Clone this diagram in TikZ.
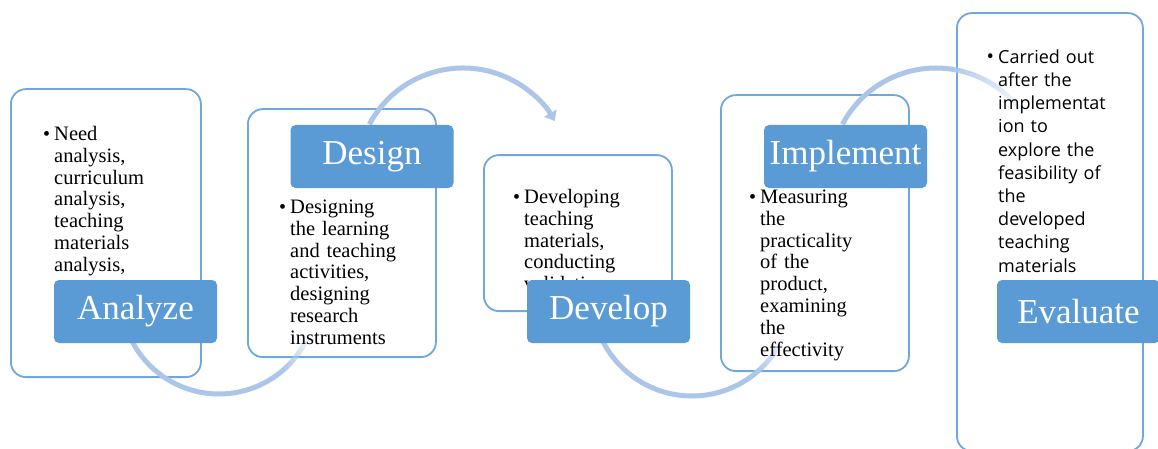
\documentclass[tikz,border=0pt]{standalone}
\usepackage{fontspec}
\setmainfont{Liberation Serif}
\newfontfamily\evalfont{Open Sans}
\usetikzlibrary{arrows.meta}
\definecolor{labelblue}{RGB}{91,155,213}
\definecolor{boxline}{RGB}{112,167,222}
\definecolor{arcblue}{RGB}{172,198,233}
% strut fixing the height of the first line of each bullet text
\newcommand\lnstrut{\rule{0pt}{16pt}}
\newcommand\bulletmark{\llap{{\fontsize{20}{20}\selectfont\textbullet}\hspace{4pt}}}

\begin{document}
\begin{tikzpicture}[x=1pt,y=1pt,
  textbox/.style={draw=boxline, line width=1.8pt, fill=white, rounded corners=15pt,
                  inner sep=0pt, anchor=south west},
  stagelabel/.style={fill=labelblue, rounded corners=5pt, inner sep=0pt, text=white,
                     minimum width=163pt, minimum height=63pt,
                     font=\fontsize{35}{38}\selectfont},
  bodytext/.style={anchor=north west, inner sep=0pt, align=left, text width=#1,
                   font=\fontsize{20.5}{21.9}\selectfont},
  evaltext/.style={anchor=north west, inner sep=0pt, align=left, text width=#1,
                   font=\evalfont\fontsize{18}{23.2}\selectfont},
  flowarc/.style={draw=arcblue, line width=5pt, line cap=butt},
]
\useasboundingbox (0,0) rectangle (1158,448);
\fill[white] (0,0) rectangle (1158,448);

% text panels
\node[textbox, minimum width=190pt, minimum height=288pt] (box1) at (10,70) {};
\node[textbox, minimum width=188pt, minimum height=248pt] (box2) at (247,90) {};
\node[textbox, minimum width=188pt, minimum height=156pt] (box3) at (483,136) {};
\node[textbox, minimum width=188pt, minimum height=276pt] (box4) at (720,76) {};
\node[textbox, minimum width=186pt, minimum height=438pt] (box5) at (956,-4) {};

% arc centres
\coordinate (c1) at (219,152);
\coordinate (c2) at (463,274);
\coordinate (c3) at (692,152);
\coordinate (c4) at (936,274);

% lower arcs: Analyze -> Design, Develop -> Implement
\draw[flowarc] ([shift={(200:98)}]c1) arc[start angle=200, end angle=310, radius=98];
\foreach \k in {0,...,9} {
  \pgfmathsetmacro\pa{310+\k*2.5}
  \pgfmathsetmacro\pc{1-\k*0.095}
  \draw[flowarc, draw opacity=\pc] ([shift={(\pa:98)}]c1) arc[start angle=\pa, end angle=\pa+2.5, radius=98];
}
\draw[flowarc] ([shift={(200:100)}]c3) arc[start angle=200, end angle=310, radius=100];
\foreach \k in {0,...,9} {
  \pgfmathsetmacro\pa{310+\k*2.5}
  \pgfmathsetmacro\pc{1-\k*0.095}
  \draw[flowarc, draw opacity=\pc] ([shift={(\pa:100)}]c3) arc[start angle=\pa, end angle=\pa+2.5, radius=100];
}

% upper arcs: Design -> Develop (with tip), Implement -> Evaluate
\draw[flowarc, -{Triangle[width=14pt,length=9pt]}] ([shift={(152:106)}]c2)
  arc[start angle=152, end angle=30, radius=106];
\draw[flowarc] ([shift={(152:106)}]c4) arc[start angle=152, end angle=80, radius=106];
\foreach \k in {0,...,14} {
  \pgfmathsetmacro\pa{80-\k*3}
  \pgfmathsetmacro\pc{0.9-\k*0.06}
  \draw[flowarc, draw opacity=\pc] ([shift={(\pa:106)}]c4) arc[start angle=\pa, end angle=\pa-3, radius=106];
}

% bullet texts
\node[bodytext=140pt] (t1) at (54,324)
  {\bulletmark\lnstrut Need\\analysis,\\curriculum\\analysis,\\teaching\\materials\\analysis,};
\node[bodytext=140pt] (t2) at (290,251)
  {\bulletmark\lnstrut Designing\\the learning\\and teaching\\activities,\\designing\\research\\instruments};
\node[bodytext=140pt] (t3) at (524,261)
  {\bulletmark\lnstrut Developing\\teaching\\materials,\\conducting\\validation};
\node[bodytext=140pt] (t4) at (760,261)
  {\bulletmark\lnstrut Measuring\\the\\practicality\\of the\\product,\\examining\\the\\effectivity};
\node[evaltext=140pt] (t5) at (998,401)
  {\bulletmark\lnstrut Carried out\\after the\\implementat\\ion to\\explore the\\feasibility of\\the\\developed\\teaching\\materials};

% stage labels
\node[stagelabel] (analyze) at (135.5,136.5) {Analyze};
\node[stagelabel] (design) at (372,291.5) {Design};
\node[stagelabel] (develop) at (608.5,136.5) {Develop};
\node[stagelabel] (implement) at (845.5,291.5) {Implement};
\node[stagelabel] (evaluate) at (1078.5,136.5) {Evaluate};
\end{tikzpicture}
\end{document}
